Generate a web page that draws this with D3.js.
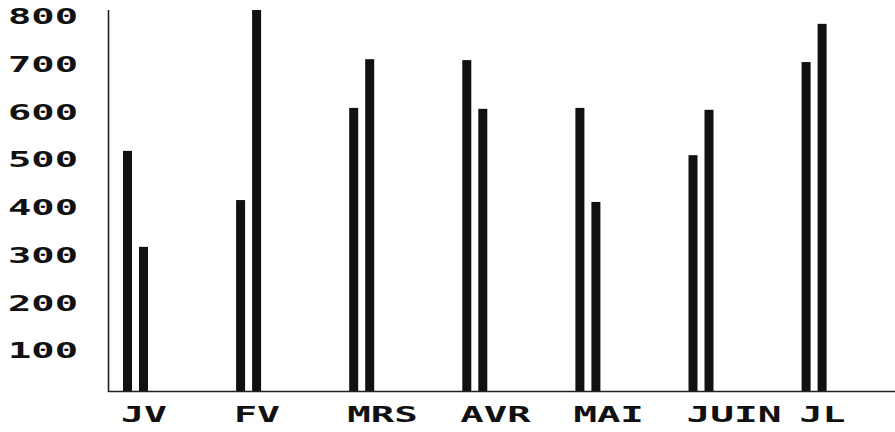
<!DOCTYPE html>
<html>
<head>
<meta charset="utf-8">
<script src="https://cdn.jsdelivr.net/npm/d3@7"></script>
<style>
  body { margin: 0; background: #fff; }
  svg { display: block; }
  text { font-family: "DejaVu Sans Mono", monospace; font-weight: bold; fill: #111; }
</style>
</head>
<body>
<svg id="chart" width="895" height="432"></svg>
<script>
// valeurs
var mois = ["JV", "FV", "MRS", "AVR", "MAI", "JUIN", "JL"]
var serie1 = [505, 402, 595, 695, 595, 496, 691]
var serie2 = [304, 800, 697, 593, 398, 591, 771]
var ticks = [100, 200, 300, 400, 500, 600, 700, 800]

!(function(){
    "use strict"

    var svg = d3.select("#chart")
    var axeX = 108.5, base = 392

    var y = d3.scaleLinear().domain([0, 800]).range([base, 10])
    var x = d3.scaleBand().domain(mois).range([123, 123 + 7 * 113.1])
    var xs = d3.scaleBand().domain([0, 1]).range([0, 25]).paddingInner(0.4375)

    // barres
    var g = svg.append("g")
    var groupes = g.selectAll("g.mois")
        .data(mois.map(function(m, i) { return { m: m, v: [serie1[i], serie2[i]] } }))
        .enter().append("g")
        .attr("class", "mois")
        .attr("transform", function(d) { return "translate(" + x(d.m) + ",0)" })

    groupes.selectAll("rect")
        .data(function(d) { return d.v })
        .enter().append("rect")
        .attr("x", function(d, i) { return xs(i) })
        .attr("width", xs.bandwidth())
        .attr("y", function(d) { return y(d) })
        .attr("height", function(d) { return base - y(d) })
        .attr("fill", "#111")

    // axes
    svg.append("line")
        .attr("x1", axeX).attr("x2", axeX)
        .attr("y1", y(800)).attr("y2", base)
        .attr("stroke", "#222").attr("stroke-width", 1.6)
    svg.append("line")
        .attr("x1", axeX).attr("x2", 895)
        .attr("y1", base - 0.5).attr("y2", base - 0.5)
        .attr("stroke", "#222").attr("stroke-width", 1.6)

    // graduations
    svg.selectAll("text.tick")
        .data(ticks)
        .enter().append("text")
        .attr("class", "tick")
        .attr("x", 8)
        .attr("y", function(d) { return y(d) + 14 })
        .attr("font-size", 21)
        .attr("textLength", 70)
        .attr("lengthAdjust", "spacingAndGlyphs")
        .text(function(d) { return d })

    // mois
    svg.selectAll("text.mois")
        .data(mois)
        .enter().append("text")
        .attr("class", "mois")
        .attr("x", function(d) { return x(d) - 2 })
        .attr("y", 422)
        .attr("font-size", 21)
        .attr("textLength", function(d) { return d.length * 24.5 - 3 })
        .attr("lengthAdjust", "spacingAndGlyphs")
        .text(function(d) { return d })
}());
</script>
</body>
</html>
